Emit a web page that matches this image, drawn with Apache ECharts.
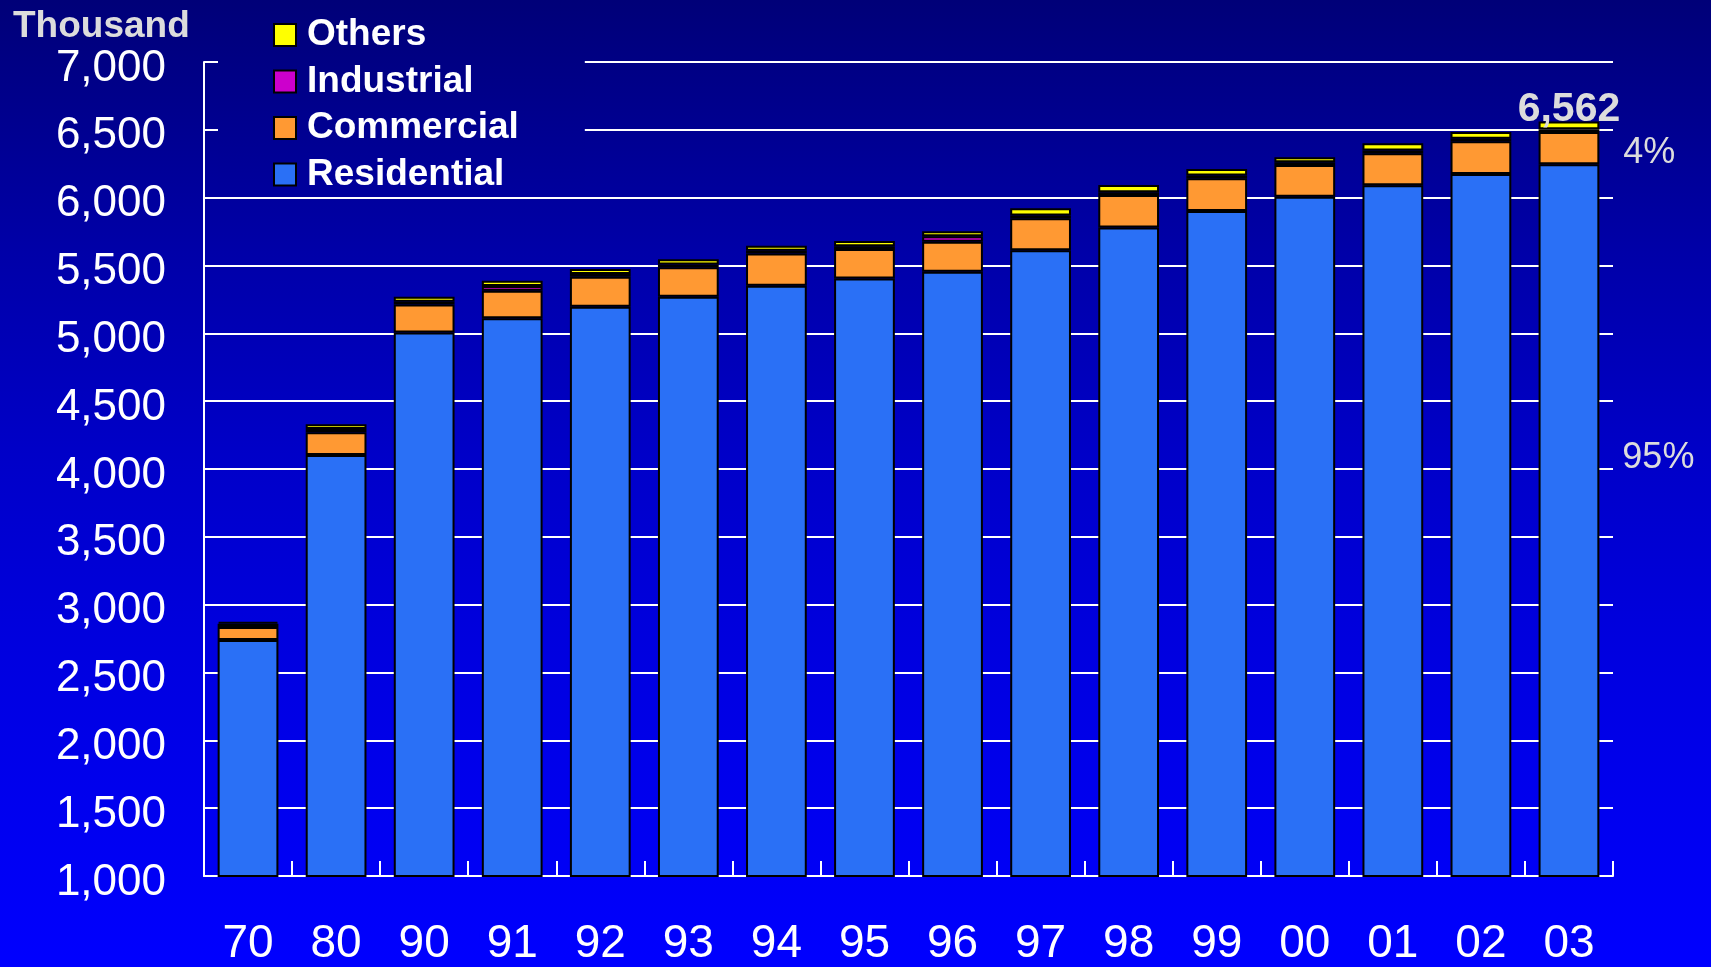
<!DOCTYPE html>
<html>
<head>
<meta charset="utf-8">
<script src="https://cdn.jsdelivr.net/npm/echarts@6/dist/echarts.min.js"></script>
<style>
  html, body { margin: 0; padding: 0; }
  #chart {
    width: 1711px; height: 967px;
    background: linear-gradient(to bottom, #000078 0%, #0000a8 26%, #0000c8 47%, #0000dd 65%, #0000ff 100%);
  }
</style>
</head>
<body>
<div id="chart"></div>
<script>
const categories = ['70','80','90','91','92','93','94','95','96','97','98','99','00','01','02','03'];
const residential = [2740,4103,5007,5111,5196,5270,5351,5405,5454,5612,5781,5902,6007,6091,6174,6246];
const commercial  = [95,167,206,203,221,217,238,216,221,236,239,241,234,236,241,238];
const industrial  = [25,25,20,35,20,20,20,20,40,20,20,20,20,20,20,20];
const others      = [14,35,37,39,37,39,37,39,37,54,53,48,36,54,49,58];
const shareLabels = { residential: '95%', commercial: '4%' };
const yTicks = { min: 1000, max: 7000, interval: 500 };

const FONT = '"Liberation Sans", Arial, sans-serif';
const last = categories.length - 1;
const totals = categories.map((_, i) => residential[i] + commercial[i] + industrial[i] + others[i]);

function withLastLabel(arr, label) {
  return arr.map((v, i) => i === last ? { value: v, label: label } : v);
}

const border = { borderColor: '#000', borderWidth: 2 };

const chart = echarts.init(document.getElementById('chart'), null, { renderer: 'canvas' });
chart.setOption({
  backgroundColor: 'transparent',
  animation: false,
  title: {
    text: 'Thousand', left: 8, top: 3,
    textStyle: { color: '#dcdcdc', fontSize: 37, fontWeight: 'bold', fontFamily: FONT,
                 textShadowColor: 'rgba(0,0,0,0.5)', textShadowOffsetX: 2, textShadowOffsetY: 2, textShadowBlur: 0 }
  },
  legend: {
    orient: 'vertical', left: 218, top: 6,
    padding: [10.5, 66, 3, 55],
    itemWidth: 22, itemHeight: 22, itemGap: 9.5,
    icon: 'rect',
    data: ['Others', 'Industrial', 'Commercial', 'Residential'],
    backgroundColor: { type: 'linear', x: 0, y: 0, x2: 0, y2: 1, colorStops: [
      { offset: 0, color: '#000079' }, { offset: 1, color: '#00009d' } ] },
    textStyle: { color: '#fff', fontSize: 37, fontWeight: 'bold', fontFamily: FONT, lineHeight: 37, padding: [0, 0, 0, 6] }
  },
  grid: { left: 204, right: 98, top: 62, bottom: 91, containLabel: false },
  xAxis: {
    type: 'category', data: categories, boundaryGap: true,
    axisLine: { show: true, lineStyle: { color: '#fff', width: 2 } },
    axisTick: { show: true, inside: true, length: 15, lineStyle: { color: '#fff', width: 2 } },
    axisLabel: { color: '#fff', fontSize: 46, fontFamily: FONT, margin: 45 },
    splitLine: { show: false }
  },
  yAxis: {
    type: 'value', min: yTicks.min, max: yTicks.max, interval: yTicks.interval,
    axisLine: { show: true, lineStyle: { color: '#fff', width: 2 } },
    axisTick: { show: true, inside: true, length: 14, lineStyle: { color: '#fff', width: 2 } },
    axisLabel: { color: '#fff', fontSize: 44, fontFamily: FONT, margin: 38,
                 verticalAlign: 'top', lineHeight: 13,
                 formatter: v => v.toLocaleString('en-US') },
    splitLine: { show: true, lineStyle: { color: '#fff', width: 2 } }
  },
  series: [
    { name: 'Residential', type: 'bar', stack: 'total', barWidth: '69%',
      itemStyle: Object.assign({ color: '#2a70f6' }, border),
      data: withLastLabel(residential, { show: true, position: 'right', distance: 23, offset: [0, -63],
        formatter: shareLabels.residential, color: '#dcdcdc', fontSize: 36, fontFamily: FONT }) },
    { name: 'Commercial', type: 'bar', stack: 'total',
      itemStyle: Object.assign({ color: '#ff9933' }, border),
      data: withLastLabel(commercial, { show: true, position: 'right', distance: 24, offset: [0, 5],
        formatter: shareLabels.commercial, color: '#dcdcdc', fontSize: 36, fontFamily: FONT }) },
    { name: 'Industrial', type: 'bar', stack: 'total',
      itemStyle: Object.assign({ color: '#cc00cc' }, border),
      data: industrial },
    { name: 'Others', type: 'bar', stack: 'total',
      itemStyle: Object.assign({ color: '#ffff00' }, border),
      data: withLastLabel(others, { show: true, position: 'top', distance: -8.5,
        formatter: p => totals[p.dataIndex].toLocaleString('en-US'),
        color: '#dcdcdc', fontSize: 41, fontWeight: 'bold', fontFamily: FONT }) }
  ]
});
</script>
</body>
</html>
